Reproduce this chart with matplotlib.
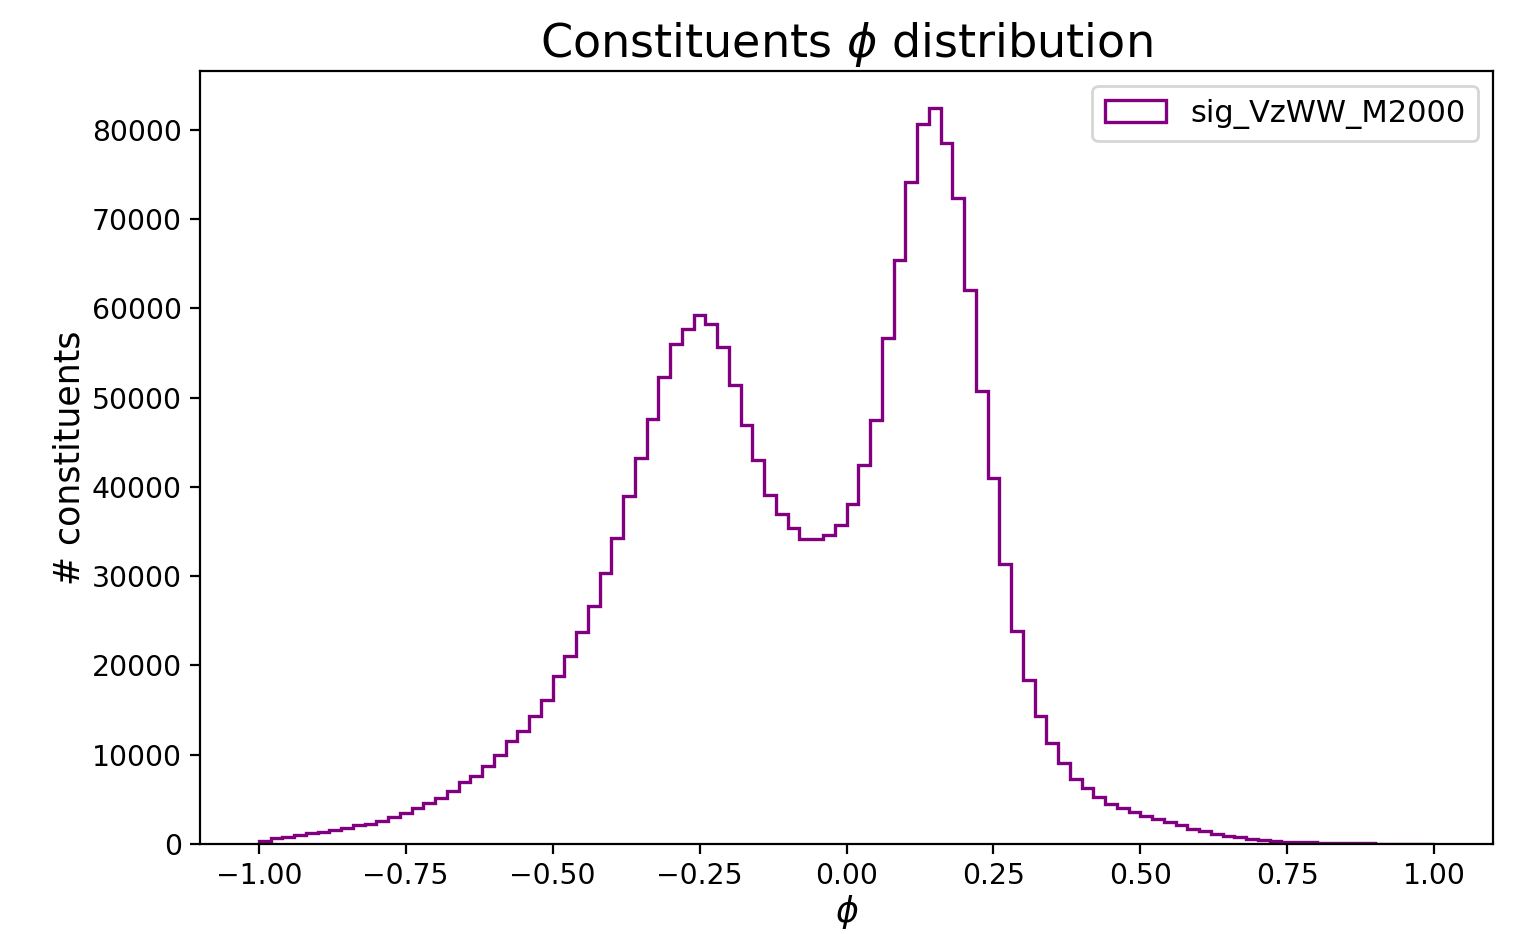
import numpy as np
import matplotlib
matplotlib.use("Agg")
import matplotlib.pyplot as plt

# Data: counts per bin of phi (100 bins from -1 to 1)
phi_min = -1.0
phi_max = 1.0
counts = [
    340, 630, 820, 970, 1190, 1340, 1530, 1750, 2090, 2280,
    2540, 2980, 3430, 3990, 4590, 5180, 5970, 6940, 7650, 8780,
    10000, 11530, 12700, 14330, 16080, 18800, 21040, 23770, 26660, 30400,
    34270, 38950, 43220, 47580, 52340, 56040, 57670, 59220, 58240, 55660,
    51400, 46980, 43060, 39060, 37000, 35440, 34130, 34130, 34650, 35700,
    38130, 42420, 47540, 56730, 65390, 74170, 80700, 82460, 78540, 72410,
    62100, 50710, 40960, 31370, 23910, 18350, 14320, 11260, 9100, 7310,
    6270, 5220, 4480, 3990, 3540, 3130, 2750, 2420, 2080, 1700,
    1420, 1150, 920, 730, 570, 430, 340, 270, 220, 180,
    150, 120, 100, 80, 60, 50, 40, 30, 20, 15,
]
label = "sig_VzWW_M2000"
title = r"Constituents $\phi$ distribution"
xlabel = r"$\phi$"
ylabel = "# constituents"

edges = np.linspace(phi_min, phi_max, len(counts) + 1)
centers = 0.5 * (edges[:-1] + edges[1:])

fig = plt.figure(figsize=(1531 / 200, 934 / 200), dpi=200)
ax = fig.add_axes([200 / 1531, 1 - 844 / 934, (1493 - 200) / 1531, (844 - 71) / 934])
ax.hist(centers, bins=edges, weights=counts, histtype="step",
        color="purple", linewidth=1.2, label=label)
ax.set_title(title, fontsize=16.6, pad=5)
ax.set_xlabel(xlabel, fontsize=12.5, labelpad=1)
ax.set_ylabel(ylabel, fontsize=12.5, labelpad=2)
ax.tick_params(labelsize=10.2, pad=3)
ax.legend(loc="upper right", fontsize=11)

fig.savefig("out.png", dpi=200)
